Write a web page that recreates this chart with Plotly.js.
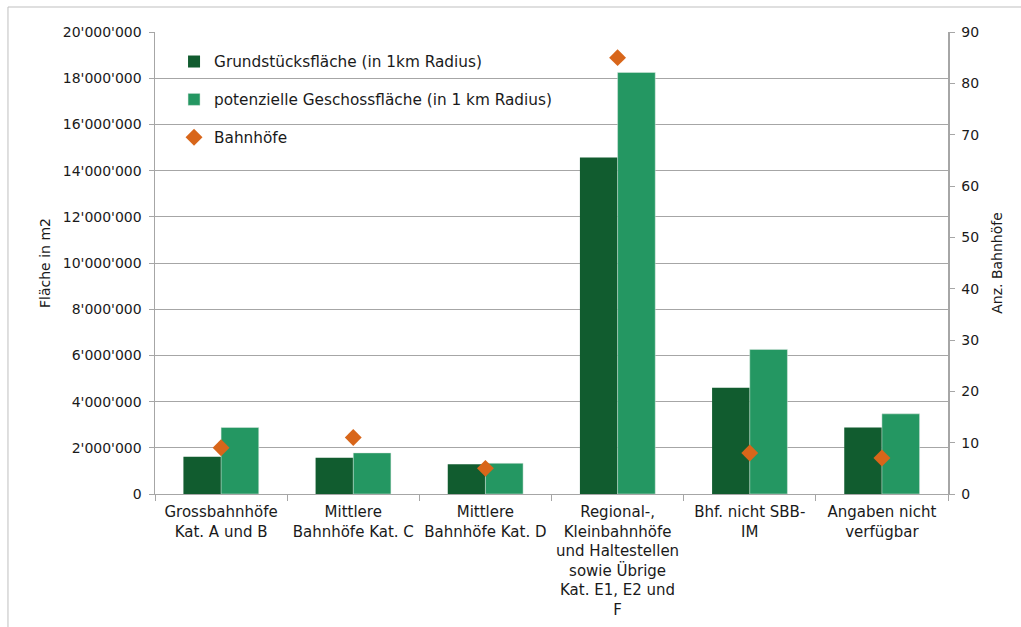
<!DOCTYPE html>
<html>
<head>
<meta charset="utf-8">
<script src="https://cdn.plot.ly/plotly-3.0.1.min.js"></script>
<style>html,body{margin:0;padding:0;background:#fff;}#chart{width:1021px;height:627px;}</style>
</head>
<body>
<div id="chart"></div>
<script>
const categories = [
  "Grossbahnhöfe<br>Kat. A und B",
  "Mittlere<br>Bahnhöfe Kat. C",
  "Mittlere<br>Bahnhöfe Kat. D",
  "Regional-,<br>Kleinbahnhöfe<br>und Haltestellen<br>sowie Übrige<br>Kat. E1, E2 und<br>F",
  "Bhf. nicht SBB-<br>IM",
  "Angaben nicht<br>verfügbar"
];
const grundstuecksflaeche = [1610000, 1570000, 1290000, 14570000, 4600000, 2880000];
const geschossflaeche = [2880000, 1780000, 1330000, 18250000, 6260000, 3470000];
const bahnhoefe = [9, 11, 5, 85, 8, 7];
const leftTicks = [0, 2000000, 4000000, 6000000, 8000000, 10000000, 12000000, 14000000, 16000000, 18000000, 20000000];
const rightTicks = [0, 10, 20, 30, 40, 50, 60, 70, 80, 90];

const fam = "DejaVu Sans, Liberation Sans, Arial, sans-serif";
const font = {family: fam, size: 15, color: "#1a1a1a"};
const tickFont = {family: fam, size: 14, color: "#1a1a1a"};
const legFont = {family: fam, size: 15.3, color: "#1a1a1a"};
const titleFont = {family: fam, size: 14, color: "#1a1a1a"};
const grid = "#a6a6a6";

const traces = [
  {type: "bar", name: "Grundstücksfläche (in 1km Radius)", x: categories, y: grundstuecksflaeche,
   marker: {color: "#115c2f"}, legend: "legend", hoverinfo: "y"},
  {type: "bar", name: "potenzielle Geschossfläche (in 1 km Radius)", x: categories, y: geschossflaeche,
   marker: {color: "#249762", line: {color: "#dfe9e3", width: 0.5}}, legend: "legend2", hoverinfo: "y"},
  {type: "scatter", mode: "markers", name: "Bahnhöfe", x: categories, y: bahnhoefe, yaxis: "y2",
   marker: {symbol: "diamond", size: 13, color: "#d8661a"}, legend: "legend3", hoverinfo: "y"}
];

const legBase = {x: 0.024, xanchor: "left", yanchor: "middle", bgcolor: "rgba(0,0,0,0)", font: legFont, itemwidth: 30};
const layout = {
  width: 1021, height: 627,
  margin: {l: 155, r: 73, t: 32, b: 133},
  paper_bgcolor: "#fff", plot_bgcolor: "#fff",
  font: font,
  separators: ".'",
  barmode: "group", bargap: 0.43, bargroupgap: 0,
  showlegend: true,
  legend: Object.assign({}, legBase, {y: 0.936}),
  legend2: Object.assign({}, legBase, {y: 0.854}),
  legend3: Object.assign({}, legBase, {y: 0.772}),
  xaxis: {
    type: "category", showline: true, linecolor: grid, linewidth: 1,
    ticks: "outside", tickson: "boundaries", ticklen: 6, tickcolor: grid,
    ticklabelstandoff: 4,
    showgrid: false, tickfont: font, automargin: false
  },
  yaxis: {
    range: [0, 20000000], tickvals: leftTicks, tickformat: ",d",
    showline: true, linecolor: grid, linewidth: 1.5, ticks: "outside", ticklen: 5, tickcolor: grid,
    ticklabelstandoff: 4,
    showgrid: true, gridcolor: grid, gridwidth: 1, zeroline: false, tickfont: tickFont,
    title: {text: "Fläche in m2", font: titleFont, standoff: 9}, automargin: false
  },
  yaxis2: {
    overlaying: "y", side: "right", range: [0, 90], tickvals: rightTicks,
    showline: true, linecolor: grid, linewidth: 1.5, ticks: "outside", ticklen: 5, tickcolor: grid,
    ticklabelstandoff: 4,
    showgrid: false, zeroline: false, tickfont: tickFont,
    title: {text: "Anz. Bahnhöfe", font: titleFont, standoff: 14}, automargin: false
  },
  shapes: [
    {type: "line", xref: "paper", yref: "paper", x0: -0.1854, x1: 1.2, y0: 1.0541, y1: 1.0541, line: {color: "#bfbfbf", width: 1}},
    {type: "line", xref: "paper", yref: "paper", x0: -0.1854, x1: -0.1854, y0: 1.0541, y1: -0.3, line: {color: "#bfbfbf", width: 1}}
  ]
};

Plotly.newPlot("chart", traces, layout, {displayModeBar: false, staticPlot: true});
</script>
</body>
</html>
